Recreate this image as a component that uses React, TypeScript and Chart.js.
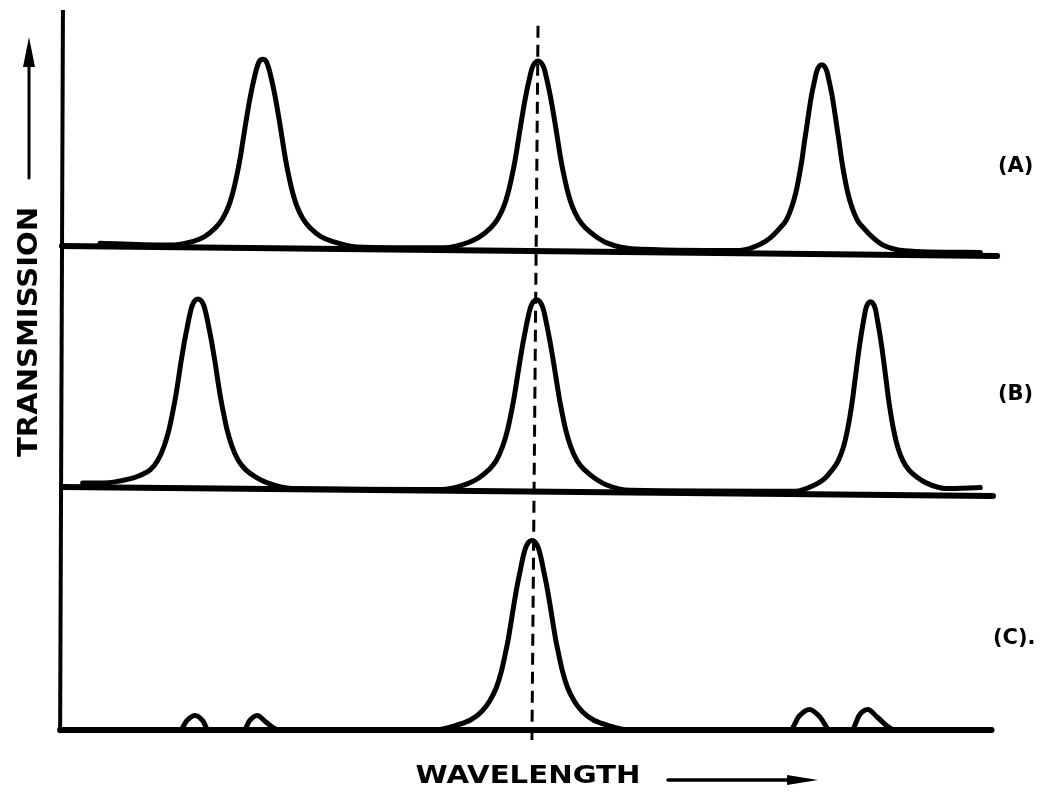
import React, { useEffect, useRef } from 'react';
import { Chart, registerables } from 'chart.js';

Chart.register(...registerables);

// ---- text ----
const Y_TITLE = 'TRANSMISSION';
const X_TITLE = 'WAVELENGTH';
const PANEL_NAMES = ['(A)', '(B)', '(C).'];

// vertical offset of each panel (A top, B middle, C bottom), in transmission units
const PANEL_OFFSETS = [2.6, 1.3, 0];

// ---- curve (A): filter A transmission (wavelength units 0..100) ----
const A_X = [4.05,
  11.4, 14.0, 15.2, 16.3, 17.1, 17.8, 18.3, 18.7, 19.0, 19.3, 19.6, 19.9, 20.2, 20.5, 20.75, 21.05, 21.4,
  21.75, 22.05, 22.3, 22.6, 22.9, 23.2, 23.5, 23.8, 24.1, 24.5, 25.0, 25.7, 26.5, 27.6, 28.8, 31.4,
  40.75, 43.35, 44.55, 45.65, 46.45, 47.15, 47.65, 48.05, 48.35, 48.65, 48.95, 49.25, 49.55, 49.85, 50.1, 50.4, 50.75,
  51.1, 51.4, 51.65, 51.95, 52.25, 52.55, 52.85, 53.15, 53.45, 53.85, 54.35, 55.05, 55.85, 56.95, 58.15, 60.75,
  72.2, 74.49, 75.54, 76.51, 77.22, 77.83, 78.27, 78.62, 78.89, 79.15, 79.42, 79.68, 79.94, 80.21, 80.43, 80.69, 81.0,
  81.31, 81.57, 81.79, 82.06, 82.32, 82.58, 82.85, 83.11, 83.38, 83.73, 84.17, 84.78, 85.49, 86.46, 87.51, 89.8,
  97.9];
const A_Y = [0.02,
  0.01, 0.03, 0.055, 0.10, 0.15, 0.225, 0.31, 0.40, 0.48, 0.575, 0.67, 0.76, 0.84, 0.91, 0.96, 1.0, 1.01,
  1.0, 0.96, 0.91, 0.84, 0.76, 0.67, 0.575, 0.48, 0.40, 0.31, 0.225, 0.15, 0.10, 0.055, 0.03, 0.0,
  -0.005, 0.025, 0.055, 0.10, 0.15, 0.225, 0.31, 0.40, 0.48, 0.575, 0.67, 0.76, 0.84, 0.91, 0.96, 0.99, 1.0,
  0.99, 0.96, 0.91, 0.84, 0.76, 0.67, 0.575, 0.48, 0.40, 0.31, 0.225, 0.15, 0.10, 0.055, 0.02, -0.01,
  -0.02, 0.015, 0.05, 0.10, 0.145, 0.22, 0.30, 0.39, 0.47, 0.565, 0.655, 0.745, 0.825, 0.89, 0.94, 0.97, 0.98,
  0.97, 0.94, 0.89, 0.825, 0.745, 0.655, 0.565, 0.47, 0.39, 0.30, 0.22, 0.145, 0.10, 0.05, 0.01, -0.02,
  -0.03];

// ---- curve (B): filter B transmission ----
const B_X = [2.2,
  4.5, 7.1, 8.3, 9.4, 10.2, 10.9, 11.4, 11.8, 12.1, 12.4, 12.7, 13.0, 13.3, 13.6, 13.85, 14.15, 14.5,
  14.85, 15.15, 15.4, 15.7, 16.0, 16.3, 16.6, 16.9, 17.2, 17.6, 18.1, 18.8, 19.6, 20.7, 21.9, 24.5,
  40.6, 43.2, 44.4, 45.5, 46.3, 47.0, 47.5, 47.9, 48.2, 48.5, 48.8, 49.1, 49.4, 49.7, 49.95, 50.25, 50.6,
  50.95, 51.25, 51.5, 51.8, 52.1, 52.4, 52.7, 53.0, 53.3, 53.7, 54.2, 54.9, 55.7, 56.8, 58.0, 60.6,
  78.2, 80.28, 81.24, 82.12, 82.76, 83.32, 83.72, 84.04, 84.28, 84.52, 84.76, 85.0, 85.24, 85.48, 85.68, 85.92, 86.2,
  86.48, 86.72, 86.92, 87.16, 87.4, 87.64, 87.88, 88.12, 88.36, 88.68, 89.08, 89.64, 90.28, 91.16, 92.12, 94.2,
  97.9];
const B_Y = [0.03,
  0.03, 0.05, 0.07, 0.10, 0.15, 0.23, 0.315, 0.41, 0.49, 0.585, 0.685, 0.775, 0.855, 0.93, 0.98, 1.01, 1.02,
  1.01, 0.98, 0.93, 0.855, 0.775, 0.685, 0.585, 0.49, 0.41, 0.315, 0.23, 0.15, 0.10, 0.06, 0.03, 0.0,
  -0.005, 0.025, 0.055, 0.10, 0.15, 0.23, 0.315, 0.41, 0.49, 0.585, 0.68, 0.77, 0.85, 0.925, 0.975, 1.005, 1.015,
  1.005, 0.975, 0.925, 0.85, 0.77, 0.68, 0.585, 0.49, 0.41, 0.315, 0.23, 0.15, 0.10, 0.055, 0.02, -0.01,
  -0.015, 0.02, 0.05, 0.10, 0.15, 0.225, 0.31, 0.40, 0.48, 0.575, 0.67, 0.76, 0.84, 0.91, 0.965, 0.995, 1.005,
  0.995, 0.965, 0.91, 0.84, 0.76, 0.67, 0.575, 0.48, 0.40, 0.31, 0.225, 0.15, 0.10, 0.06, 0.03, 0.0,
  0.005];

// ---- curve (C): combined transmission ----
const C_X = [-0.2, 12.6, 13.3, 14.2, 15.0, 15.6, 19.4, 20.0, 20.8, 21.7, 22.6, 23.2,
  39.6, 42.33, 43.59, 44.74, 45.58, 46.32, 46.84, 47.26, 47.58, 47.89, 48.21, 48.52, 48.84, 49.15, 49.42, 49.73, 50.1,
  50.47, 50.78, 51.05, 51.36, 51.68, 51.99, 52.31, 52.62, 52.94, 53.36, 53.88, 54.62, 55.46, 56.61, 57.87, 60.6,
  77.6, 78.6, 79.7, 80.8, 81.9, 84.2, 85.0, 85.9, 86.9, 88.0, 88.8, 99.1];
const C_Y = [0, 0, 0.05, 0.078, 0.05, 0, 0, 0.05, 0.078, 0.045, 0.01, 0,
  0, 0.03, 0.055, 0.10, 0.155, 0.23, 0.315, 0.41, 0.49, 0.585, 0.685, 0.775, 0.855, 0.93, 0.98, 1.01, 1.02,
  1.01, 0.98, 0.93, 0.855, 0.775, 0.685, 0.585, 0.49, 0.41, 0.315, 0.23, 0.155, 0.10, 0.055, 0.03, 0,
  0, 0.075, 0.11, 0.07, 0, 0, 0.08, 0.11, 0.07, 0.02, 0, 0];

// ---- panel baselines (start / end) ----
const BASE_X0 = [0, 0, -0.2];
const BASE_X1 = [99.7, 99.25, 99.1];
const BASE_Y0 = [0.005, 0.008, 0];
const BASE_Y1 = [-0.049, -0.041, 0];

// ---- vertical axis and dashed marker line ----
const AXIS_X = [0.1, -0.2];
const AXIS_Y = [3.875, -0.016];
const MARKER_X = [50.75, 50.1];
const MARKER_Y = [3.79, -0.054];

const X_MIN = 0;
const X_MAX = 100;
const Y_MIN = 0;
const Y_MAX = 3.875;

const pts = (xs: number[], ys: number[], off: number) => xs.map((x, i) => ({ x, y: ys[i] + off }));

const annotPlugin = {
  id: 'annot',
  afterDraw(chart: any) {
    const ctx: CanvasRenderingContext2D = chart.ctx;
    ctx.save();
    ctx.fillStyle = '#000';
    ctx.strokeStyle = '#000';
    const fitText = (text: string, x: number, y: number, width: number, size: number, rot: number) => {
      ctx.save();
      ctx.font = `bold ${size}px "DejaVu Sans"`;
      const w = ctx.measureText(text).width;
      ctx.translate(x, y);
      ctx.rotate(rot);
      ctx.scale(width / w, 1);
      ctx.textAlign = 'center';
      ctx.textBaseline = 'alphabetic';
      ctx.fillText(text, 0, 0);
      ctx.restore();
    };
    // axis titles
    fitText(Y_TITLE, 37, 332, 250, 27, -Math.PI / 2);
    fitText(X_TITLE, 528, 783, 225, 25, 0);

    // up arrow
    ctx.lineWidth = 3;
    ctx.lineCap = 'round';
    ctx.beginPath();
    ctx.moveTo(29, 178);
    ctx.lineTo(29, 60);
    ctx.stroke();
    ctx.beginPath();
    ctx.moveTo(29, 37);
    ctx.lineTo(35, 67);
    ctx.lineTo(23, 67);
    ctx.closePath();
    ctx.fill();

    // right arrow
    ctx.lineWidth = 3.5;
    ctx.beginPath();
    ctx.moveTo(668, 780);
    ctx.lineTo(795, 780);
    ctx.stroke();
    ctx.beginPath();
    ctx.moveTo(818, 780);
    ctx.lineTo(787, 775);
    ctx.lineTo(787, 785);
    ctx.closePath();
    ctx.fill();

    // panel labels
    ctx.font = 'bold 21px "DejaVu Sans"';
    ctx.textAlign = 'left';
    ctx.textBaseline = 'alphabetic';
    const lx = [998, 998, 993];
    const ly = [172, 400, 644];
    PANEL_NAMES.forEach((t, i) => ctx.fillText(t, lx[i], ly[i]));
    ctx.restore();
  },
};

export default function App() {
  const ref = useRef<HTMLCanvasElement | null>(null);
  useEffect(() => {
    if (!ref.current) return;
    const lineBase = {
      showLine: true,
      pointRadius: 0,
      borderColor: '#000',
      backgroundColor: '#000',
      fill: false,
      clip: false as any,
      borderCapStyle: 'round' as const,
      borderJoinStyle: 'round' as const,
    };
    const baselines = PANEL_OFFSETS.map((off, i) => ({
      ...lineBase,
      label: 'baseline ' + PANEL_NAMES[i],
      data: [
        { x: BASE_X0[i], y: BASE_Y0[i] + off },
        { x: BASE_X1[i], y: BASE_Y1[i] + off },
      ],
      borderWidth: 6,
    }));
    const curves = [
      { xs: A_X, ys: A_Y, off: PANEL_OFFSETS[0], name: PANEL_NAMES[0] },
      { xs: B_X, ys: B_Y, off: PANEL_OFFSETS[1], name: PANEL_NAMES[1] },
      { xs: C_X, ys: C_Y, off: PANEL_OFFSETS[2], name: PANEL_NAMES[2] },
    ].map((c) => ({
      ...lineBase,
      label: c.name,
      data: pts(c.xs, c.ys, c.off),
      borderWidth: 5,
      cubicInterpolationMode: 'monotone' as const,
    }));
    const axis = {
      ...lineBase,
      label: 'axis',
      data: pts(AXIS_X, AXIS_Y, 0),
      borderWidth: 4,
      borderCapStyle: 'butt' as const,
    };
    const marker = {
      ...lineBase,
      label: 'marker',
      data: pts(MARKER_X, MARKER_Y, 0),
      borderWidth: 3,
      borderDash: [12, 7],
      borderCapStyle: 'butt' as const,
    };
    const chart = new Chart(ref.current, {
      type: 'scatter',
      data: { datasets: [...baselines, ...curves, axis, marker] as any },
      options: {
        responsive: false,
        animation: false,
        devicePixelRatio: 1,
        layout: { padding: { left: 62, right: 42, top: 10, bottom: 67 } },
        scales: {
          x: { type: 'linear', min: X_MIN, max: X_MAX, display: false },
          y: { type: 'linear', min: Y_MIN, max: Y_MAX, display: false },
        },
        plugins: { legend: { display: false }, tooltip: { enabled: false } },
      },
      plugins: [annotPlugin],
    });
    return () => chart.destroy();
  }, []);
  return (
    <div style={{ position: 'fixed', left: 0, top: 0, width: 1042, height: 797, background: '#fff' }}>
      <canvas ref={ref} width={1042} height={797} style={{ display: 'block' }} />
    </div>
  );
}
